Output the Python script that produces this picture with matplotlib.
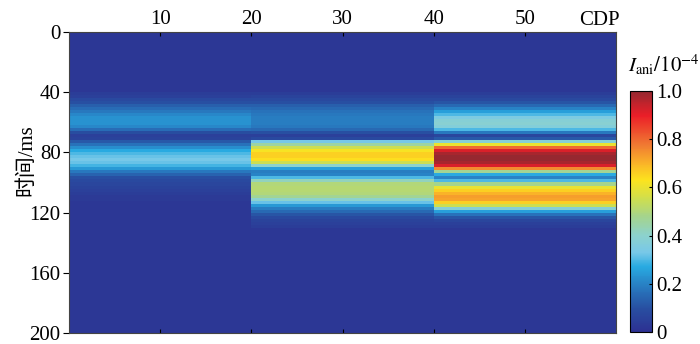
import numpy as np
import matplotlib
matplotlib.use('Agg')
import matplotlib.pyplot as plt
from matplotlib.colors import LinearSegmentedColormap

plt.rcParams['font.family'] = ['Liberation Serif', 'Noto Sans CJK SC']
plt.rcParams['mathtext.fontset'] = 'stix'

# anisotropy profiles (x 1e-4) per CDP block, 2 ms samples starting at 40 ms
t_start = 40
dt = 2
block_edges = [0, 20, 40, 60]
col1 = [0.04, 0.05, 0.08, 0.1, 0.13, 0.16, 0.18, 0.21, 0.23, 0.23,
        0.23, 0.21, 0.16, 0.09, 0.05, 0.06, 0.12, 0.17, 0.22, 0.27,
        0.3, 0.32, 0.33, 0.32, 0.29, 0.24, 0.18, 0.14, 0.1, 0.08,
        0.07, 0.06, 0.05, 0.04, 0.03, 0.03, 0.02, 0.02, 0.02, 0.02,
        0.02, 0.02, 0.02, 0.02, 0.02]
col2 = [0.04, 0.06, 0.08, 0.1, 0.13, 0.15, 0.17, 0.18, 0.19, 0.19,
        0.19, 0.18, 0.15, 0.1, 0.05, 0.08, 0.33, 0.45, 0.55, 0.62,
        0.66, 0.66, 0.64, 0.55, 0.4, 0.25, 0.19, 0.2, 0.3, 0.42,
        0.5, 0.51, 0.51, 0.5, 0.47, 0.4, 0.32, 0.24, 0.19, 0.15,
        0.11, 0.08, 0.06, 0.05, 0.04]
col3 = [0.04, 0.06, 0.08, 0.11, 0.15, 0.2, 0.25, 0.3, 0.35, 0.38,
        0.39, 0.37, 0.3, 0.18, 0.07, 0.12, 0.38, 0.6, 0.8, 0.92,
        0.98, 1.0, 1.0, 0.98, 0.92, 0.75, 0.47, 0.27, 0.2, 0.3,
        0.48, 0.6, 0.66, 0.7, 0.73, 0.72, 0.66, 0.55, 0.38, 0.25,
        0.17, 0.11, 0.07, 0.05, 0.04]
background = 0.02

cbar_colors = [(45, 49, 146), (40, 80, 162), (40, 120, 190), (40, 170, 225),
               (120, 200, 232), (140, 210, 205), (165, 212, 140), (205, 222, 80),
               (252, 228, 30), (250, 180, 40), (240, 120, 50), (235, 30, 40),
               (150, 40, 48)]
cbar_pos = [0.0, 0.1, 0.18, 0.27, 0.33, 0.4, 0.48, 0.55, 0.63, 0.7, 0.78, 0.9, 1.0]
cmap = LinearSegmentedColormap.from_list(
    'print_jet', list(zip(cbar_pos, [tuple(c / 255 for c in rgb) for rgb in cbar_colors])))

t_edges = np.arange(0, 201, dt)
cdp_edges = np.arange(0, 61, 1)
Z = np.full((len(t_edges) - 1, len(cdp_edges) - 1), background)
i0 = t_start // dt
for k, prof in enumerate([col1, col2, col3]):
    Z[i0:i0 + len(prof), block_edges[k]:block_edges[k + 1]] = np.array(prof)[:, None]

fig = plt.figure(figsize=(7, 3.44), dpi=100)
ax = fig.add_axes([0.0986, 0.032, 0.7814, 0.875])
mesh = ax.pcolormesh(cdp_edges, t_edges, Z, cmap=cmap, vmin=0, vmax=1, shading='flat')
ax.set_xlim(0, 60)
ax.set_ylim(200, 0)
ax.xaxis.tick_top()
ax.set_xticks([10, 20, 30, 40, 50])
ax.set_yticks([0, 40, 80, 120, 160, 200])
ax.tick_params(axis='x', direction='in', length=3, labelsize=15, pad=2, top=True, bottom=True)
ax.tick_params(axis='y', direction='out', length=4, labelsize=15, pad=2, left=True, right=False)
ax.text(58.2, -1.5, 'CDP', ha='center', va='bottom', fontsize=15, transform=ax.transData)
ax.set_ylabel('时间/ms', fontsize=15)
ax.yaxis.set_label_coords(-0.06, 0.575)
for s in ax.spines.values():
    s.set_color('#444444')
    s.set_linewidth(0.8)

cax = fig.add_axes([0.9, 0.035, 0.031, 0.7])
cb = fig.colorbar(mesh, cax=cax)
cb.set_ticks([0, 0.2, 0.4, 0.6, 0.8, 1.0])
cb.set_ticklabels(['0', '0.2', '0.4', '0.6', '0.8', '1.0'])
cb.ax.tick_params(direction='in', length=2, labelsize=15, pad=3)
cb.outline.set_linewidth(0.8)
fig.text(0.948, 0.775, r'$I_{\mathrm{ani}}/10^{-4}$', ha='center', va='bottom', fontsize=15)

fig.savefig('out.png', dpi=100)
